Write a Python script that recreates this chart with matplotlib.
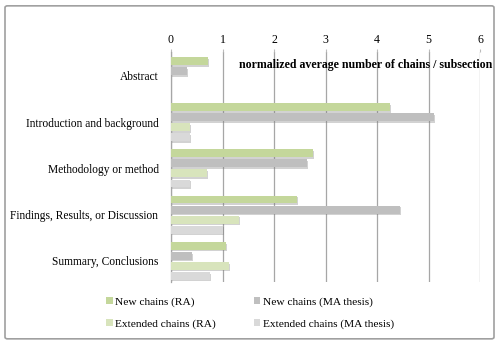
import numpy as np
import matplotlib
matplotlib.use("Agg")
import matplotlib.pyplot as plt
import matplotlib.patheffects as pe
from matplotlib.patches import FancyBboxPatch, Patch

categories = ["Abstract", "Introduction and background", "Methodology or method",
              "Findings, Results, or Discussion", "Summary, Conclusions"]
new_ra = [0.72, 4.25, 2.76, 2.44, 1.07]
new_ma = [0.31, 5.10, 2.64, 4.45, 0.41]
ext_ra = [0.00, 0.37, 0.70, 1.32, 1.13]
ext_ma = [0.00, 0.36, 0.37, 1.01, 0.76]
series_names = ["New chains (RA)", "New chains (MA thesis)",
                "Extended chains (RA)", "Extended chains (MA thesis)"]
colors = ["#c4d79b", "#bfbfbf", "#d8e4bc", "#d9d9d9"]

plt.rcParams["font.family"] = ["Liberation Serif", "DejaVu Serif"]

fig = plt.figure(figsize=(5, 3.44), dpi=100)
ax = fig.add_axes([0.342, 0.180, 0.618, 0.669])

y = np.arange(len(categories))
step = 0.217
height = 0.17
shadow = [pe.SimplePatchShadow(offset=(0.8, -1.2), shadow_rgbFace="#808080", alpha=0.35), pe.Normal()]
for i, (vals, c) in enumerate(zip([new_ra, new_ma, ext_ra, ext_ma], colors)):
    bars = ax.barh(y + (i - 1.5) * step, vals, height=height, color=c, zorder=3)
    for b in bars:
        if b.get_width() > 0:
            b.set_path_effects(shadow)

ax.set_xlim(0, 6)
ax.set_ylim(4.46, -0.52)
ax.set_yticks(y)
ax.set_yticklabels(categories, fontsize=8.3)
ax.xaxis.tick_top()
ax.set_xticks(range(7))
ax.tick_params(axis="x", length=2, color="#bbbbbb", labelsize=8.6, pad=2)
ax.tick_params(axis="y", length=0, pad=9)
ax.grid(axis="x", color="#a6a6a6", linewidth=0.9, zorder=0)
for s in ["top", "right", "bottom"]:
    ax.spines[s].set_visible(False)
ax.spines["left"].set_color("#a6a6a6")
ax.spines["left"].set_linewidth(0.9)

fig.text(0.984, 0.811, "normalized average number of chains / subsection",
         ha="right", va="center", fontsize=8.6, fontweight="bold")

# ncol=2 fills column by column, so reorder to get rows RA/MA
order = [0, 2, 1, 3]
proxies = [Patch(facecolor=colors[k], label=series_names[k]) for k in order]
fig.legend(handles=proxies, loc="center", bbox_to_anchor=(0.5, 0.09), ncol=2, frameon=False,
           fontsize=8.2, handlelength=0.6, handleheight=0.6, handletextpad=0.2,
           columnspacing=3.3, labelspacing=1.05)

border = FancyBboxPatch((0.01, 0.015), 0.978, 0.968, boxstyle="round,pad=0,rounding_size=0.005",
                        transform=fig.transFigure, fill=False, edgecolor="#a0a0a0", linewidth=1.2)
fig.patches.append(border)

fig.savefig("out.png", dpi=100)
